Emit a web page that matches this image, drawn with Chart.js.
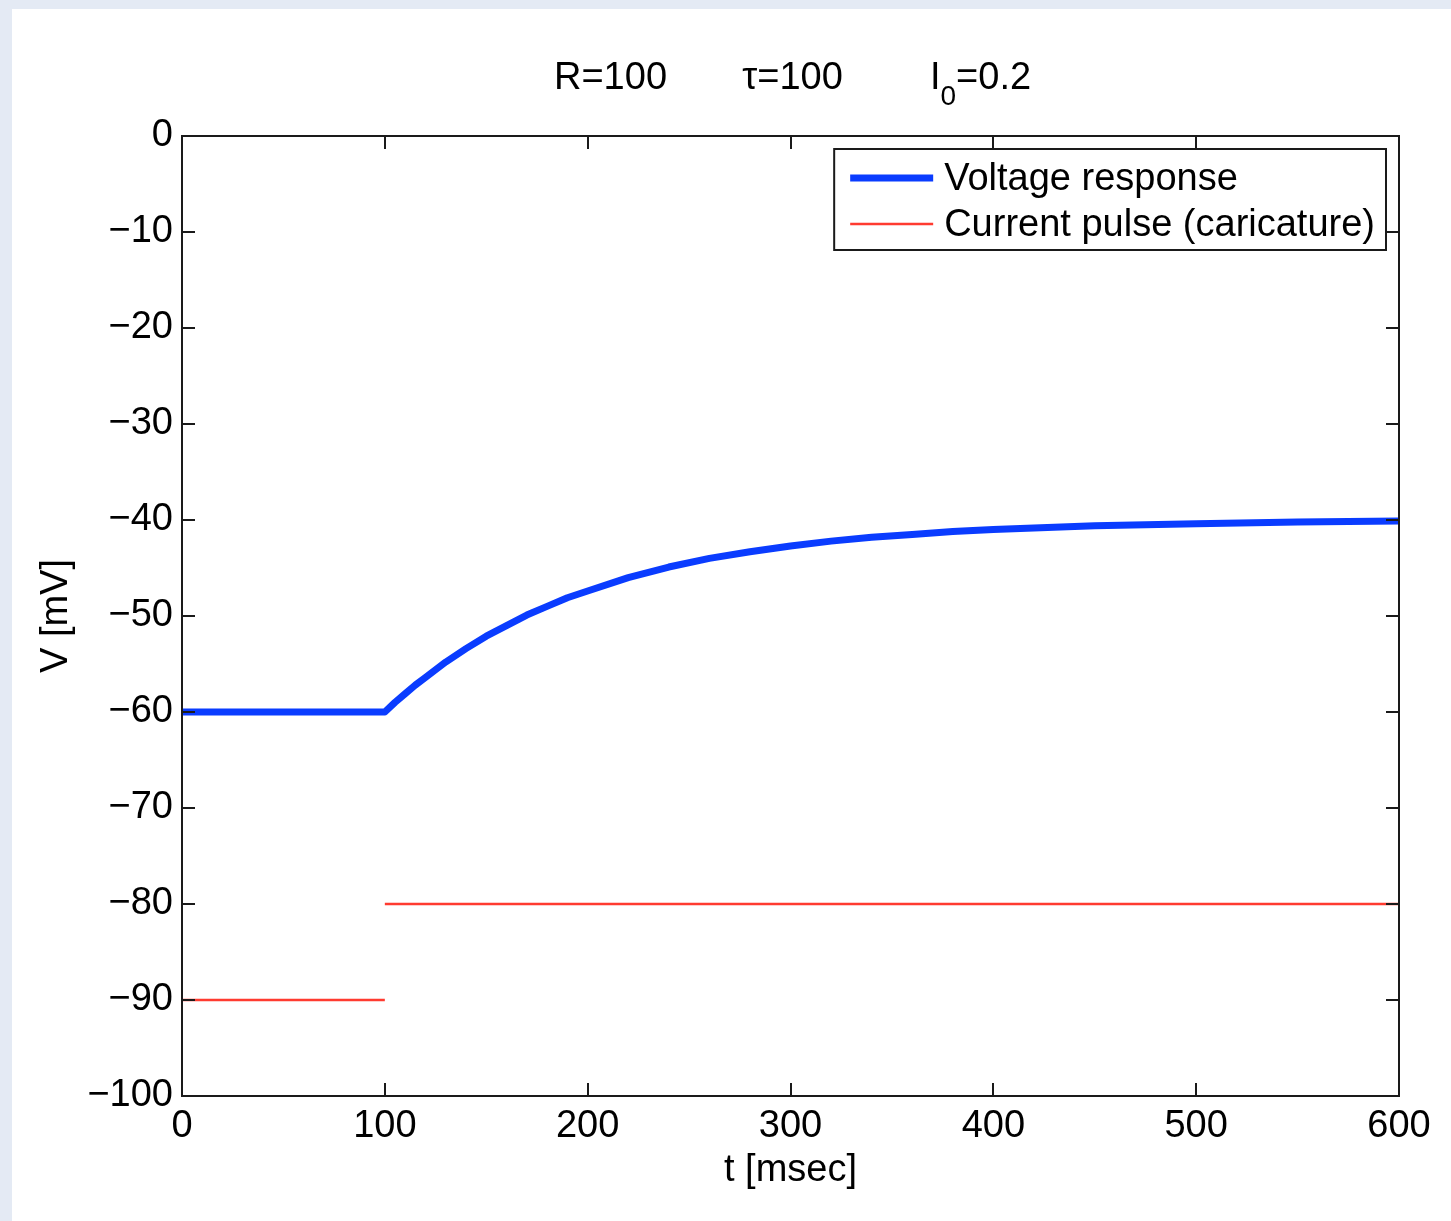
<!DOCTYPE html>
<html>
<head>
<meta charset="utf-8">
<script src="https://cdn.jsdelivr.net/npm/chart.js@4/dist/chart.umd.min.js"></script>
<style>
  html, body { margin: 0; padding: 0; background: #e4eaf4; overflow: hidden; }
  #panel { position: absolute; left: 12px; top: 9px; right: 0; bottom: 0; background: #fff; }
  #myChart { position: absolute; left: 0; top: 0; }
</style>
</head>
<body>
<div id="panel"></div>
<canvas id="myChart" width="1451" height="1221"></canvas>
<script>
// voltage response
const timeV = [0, 100, 105, 110, 115, 120, 130, 140, 150, 160, 170, 180, 190, 200, 220, 240, 260, 280, 300, 320, 340, 360, 380, 400, 450, 500, 550, 600]
const voltage = [-60, -60, -59.0, -58.1, -57.2, -56.4, -54.8, -53.4, -52.1, -51.0, -49.9, -49.0, -48.1, -47.4, -46.0, -44.9, -44.0, -43.3, -42.7, -42.2, -41.8, -41.5, -41.2, -41.0, -40.6, -40.4, -40.2, -40.1]

// current pulse (drawn as a caricature, with a break at t=100)
const timeI = [0, 100, 100, 100, 600]
const current = [-90, -90, null, -80, -80]

const xTickValues = [0, 100, 200, 300, 400, 500, 600]
const yTickValues = [0, -10, -20, -30, -40, -50, -60, -70, -80, -90, -100]

const titleParts = ['R=100', '\u03c4=100', 'I', '0', '=0.2']
const seriesLabels = ['Voltage response', 'Current pulse (caricature)']

const FONT = '"Liberation Sans", Arial, Helvetica, sans-serif'
const FS = 38
const TICK = 13

const boxPlugin = {
    id: 'matlabBox',
    afterDraw(chart) {
        const {ctx, chartArea: a, scales} = chart
        const x = scales.x, y = scales.y
        ctx.save()
        ctx.strokeStyle = '#1a1a1a'
        ctx.lineWidth = 2
        ctx.strokeRect(a.left, a.top, a.right - a.left, a.bottom - a.top)
        ctx.beginPath()
        xTickValues.forEach(v => {
            const px = Math.round(x.getPixelForValue(v))
            ctx.moveTo(px, a.bottom); ctx.lineTo(px, a.bottom - TICK)
            ctx.moveTo(px, a.top); ctx.lineTo(px, a.top + TICK)
        })
        yTickValues.forEach(v => {
            const py = Math.round(y.getPixelForValue(v))
            ctx.moveTo(a.left, py); ctx.lineTo(a.left + TICK, py)
            ctx.moveTo(a.right, py); ctx.lineTo(a.right - TICK, py)
        })
        ctx.stroke()

        // title
        const cx = (a.left + a.right) / 2
        const base = a.top - 47
        ctx.fillStyle = '#000'
        ctx.textBaseline = 'alphabetic'
        ctx.textAlign = 'center'
        ctx.font = FS + 'px ' + FONT
        ctx.fillText(titleParts[0], cx - 180, base)
        ctx.fillText(titleParts[1], cx + 2, base)
        ctx.textAlign = 'left'
        const wI = ctx.measureText(titleParts[2]).width
        ctx.font = '28px ' + FONT
        const w0 = ctx.measureText(titleParts[3]).width
        ctx.font = FS + 'px ' + FONT
        const wE = ctx.measureText(titleParts[4]).width
        let sx = cx + 190 - (wI + w0 + wE) / 2
        ctx.fillText(titleParts[2], sx, base)
        ctx.font = '28px ' + FONT
        ctx.fillText(titleParts[3], sx + wI, base + 16)
        ctx.font = FS + 'px ' + FONT
        ctx.fillText(titleParts[4], sx + wI + w0, base)

        // legend box
        const ds = chart.data.datasets
        ctx.font = FS + 'px ' + FONT
        const tw = Math.max(...ds.map(d => ctx.measureText(d.label).width))
        const lw = 16 + 83 + 12 + tw + 10
        const lh = 101
        const lx = a.right - TICK - lw
        const ly = a.top + TICK
        ctx.fillStyle = '#fff'
        ctx.fillRect(lx, ly, lw, lh)
        ctx.strokeStyle = '#1a1a1a'
        ctx.lineWidth = 2
        ctx.strokeRect(lx, ly, lw, lh)
        ds.forEach((d, i) => {
            const ry = ly + 29 + i * 46
            ctx.beginPath()
            ctx.strokeStyle = d.borderColor
            ctx.lineWidth = d.borderWidth
            ctx.moveTo(lx + 16, ry)
            ctx.lineTo(lx + 99, ry)
            ctx.stroke()
            ctx.fillStyle = '#000'
            ctx.textBaseline = 'middle'
            ctx.textAlign = 'left'
            ctx.fillText(d.label, lx + 110, ry + 2)
        })
        ctx.restore()
    }
}

const show = document.getElementById('myChart').getContext('2d')
const myChart = new Chart(show, {
    type: 'line',
    data: {
        datasets: [{
            label: seriesLabels[0],
            data: timeV.map((t, i) => ({x: t, y: voltage[i]})),
            borderColor: '#0a3cff',
            borderWidth: 7,
            borderJoinStyle: 'round',
            pointRadius: 0,
            tension: 0,
            fill: false,
        }, {
            label: seriesLabels[1],
            data: timeI.map((t, i) => ({x: t, y: current[i]})),
            borderColor: '#ff3b30',
            borderWidth: 2.5,
            pointRadius: 0,
            tension: 0,
            spanGaps: false,
            fill: false,
        }]
    },
    options: {
        responsive: false,
        animation: false,
        devicePixelRatio: 1,
        layout: { padding: { top: 136, right: 52, bottom: 0, left: 0 } },
        plugins: { legend: { display: false }, tooltip: { enabled: false } },
        scales: {
            x: {
                type: 'linear',
                min: 0, max: 600,
                afterBuildTicks: s => { s.ticks = xTickValues.map(v => ({value: v})) },
                afterFit: s => { s.height = 125 },
                grid: { display: false, drawTicks: false },
                border: { display: false },
                ticks: { padding: 8, maxRotation: 0, autoSkip: false, color: '#000', font: { family: FONT, size: FS } },
                title: { display: true, text: 't [msec]', color: '#000', font: { family: FONT, size: FS }, padding: { top: 0, bottom: 28 } }
            },
            y: {
                type: 'linear',
                min: -100, max: 0,
                afterBuildTicks: s => { s.ticks = yTickValues.map(v => ({value: v})) },
                afterFit: s => { s.width = 182 },
                grid: { display: false, drawTicks: false },
                border: { display: false },
                ticks: {
                    padding: 9, autoSkip: false, color: '#000', font: { family: FONT, size: FS },
                    callback: v => String(v).replace('-', '\u2212')
                },
                title: { display: true, text: 'V [mV]', color: '#000', font: { family: FONT, size: FS }, padding: { top: 34, bottom: 0 } }
            }
        }
    },
    plugins: [boxPlugin]
})
</script>
</body>
</html>
